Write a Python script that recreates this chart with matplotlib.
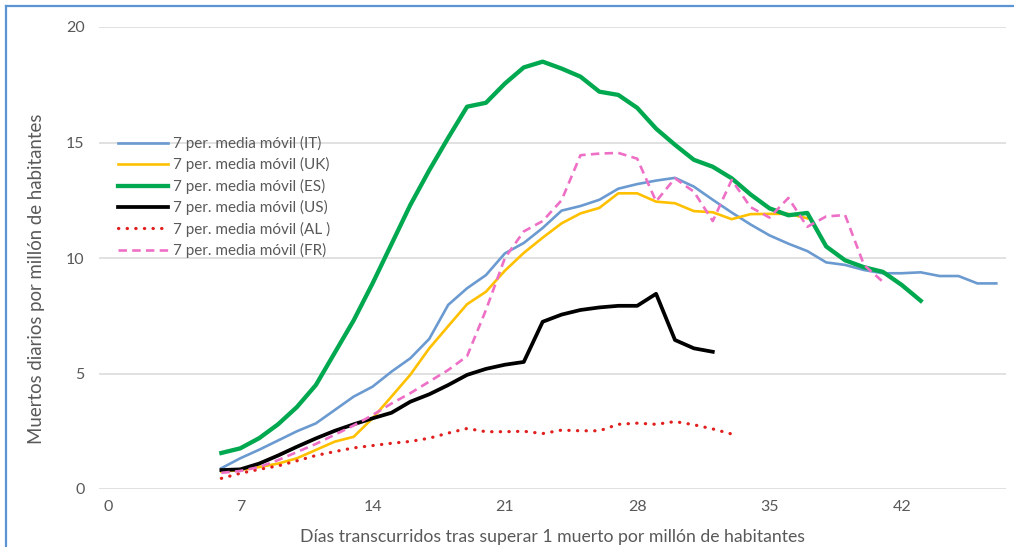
import matplotlib
matplotlib.use("Agg")
import matplotlib.pyplot as plt
from matplotlib.lines import Line2D

plt.rcParams['font.family'] = ['Lato', 'DejaVu Sans']

# ---- data (day index -> daily deaths per million, 7-day moving average) ----
days_it = list(range(6, 48))
it = [0.9, 1.33, 1.7, 2.1, 2.5, 2.84, 3.42, 4.0, 4.43, 5.08, 5.66, 6.5, 7.97, 8.69,
      9.26, 10.2, 10.65, 11.3, 12.05, 12.25, 12.52, 13.0, 13.2, 13.35, 13.47, 13.09,
      12.52, 11.97, 11.45, 10.98, 10.62, 10.3, 9.81, 9.7, 9.48, 9.34, 9.34, 9.38,
      9.22, 9.22, 8.9, 8.9]

days_uk = list(range(6, 38))
uk = [0.75, 0.82, 0.95, 1.1, 1.33, 1.69, 2.05, 2.26, 3.06, 4.0, 4.95, 6.09, 7.05,
      8.0, 8.54, 9.45, 10.22, 10.88, 11.5, 11.93, 12.17, 12.8, 12.8, 12.44, 12.37,
      12.03, 11.98, 11.68, 11.9, 11.91, 11.91, 11.72]

days_es = list(range(6, 44))
es = [1.56, 1.76, 2.2, 2.8, 3.55, 4.5, 5.9, 7.3, 8.9, 10.6, 12.3, 13.8, 15.2, 16.55,
      16.72, 17.55, 18.25, 18.5, 18.2, 17.85, 17.2, 17.06, 16.5, 15.6, 14.9, 14.25,
      13.95, 13.45, 12.75, 12.15, 11.85, 11.95, 10.5, 9.9, 9.6, 9.4, 8.83, 8.15]

days_us = list(range(6, 33))
us = [0.82, 0.85, 1.1, 1.45, 1.83, 2.19, 2.52, 2.8, 3.06, 3.3, 3.78, 4.1, 4.5, 4.94,
      5.2, 5.38, 5.5, 7.24, 7.55, 7.75, 7.86, 7.93, 7.93, 8.45, 6.45, 6.09, 5.94]

days_al = list(range(6, 34))
al = [0.46, 0.68, 0.85, 1.0, 1.22, 1.45, 1.62, 1.78, 1.88, 1.98, 2.06, 2.2, 2.42,
      2.62, 2.48, 2.48, 2.5, 2.4, 2.55, 2.52, 2.52, 2.8, 2.85, 2.8, 2.92, 2.78, 2.6, 2.38]

days_fr = list(range(6, 42))
fr = [0.7, 0.78, 0.95, 1.25, 1.6, 1.95, 2.35, 2.75, 3.2, 3.7, 4.15, 4.65, 5.15, 5.75,
      7.75, 10.0, 11.15, 11.6, 12.5, 14.45, 14.52, 14.55, 14.3, 12.45, 13.45, 12.87,
      11.6, 13.38, 12.2, 11.75, 12.6, 11.35, 11.8, 11.86, 9.7, 8.97]

labels = ["7 per. media móvil (IT)", "7 per. media móvil (UK)", "7 per. media móvil (ES)",
          "7 per. media móvil (US)", "7 per. media móvil (AL )", "7 per. media móvil (FR)"]
xticks = [0, 7, 14, 21, 28, 35, 42]
yticks = [0, 5, 10, 15, 20]

W, H = 1014, 547
fig = plt.figure(figsize=(W / 100, H / 100), dpi=100)
x0, x1, y0, y1 = 98.5, 1005.75, 27, 489
ax = fig.add_axes([x0 / W, 1 - y1 / H, (x1 - x0) / W, (y1 - y0) / H])

grey = '#595959'
ax.plot(days_it, it, color='#6a9ad0', lw=1.9, label=labels[0], solid_joinstyle='round')
ax.plot(days_uk, uk, color='#ffc000', lw=1.9, label=labels[1], solid_joinstyle='round')
ax.plot(days_es, es, color='#00a84f', lw=3.1, label=labels[2], solid_joinstyle='round')
ax.plot(days_us, us, color='black', lw=2.7, label=labels[3], solid_joinstyle='round')
ax.plot(days_al, al, color='#e0201e', lw=2.3, linestyle=(0, (0.1, 2.6)),
        dash_capstyle='round', label=labels[4])
ax.plot(days_fr, fr, color='#ee6fc6', lw=1.9, linestyle=(0, (3.2, 2.0)), label=labels[5])

ax.set_xlim(-0.5, 47.5)
ax.set_ylim(0, 20)
ax.set_xticks(xticks)
ax.set_yticks(yticks)
ax.set_xticklabels([str(v) for v in xticks])
ax.set_yticklabels([str(v) for v in yticks])
for s in ax.spines.values():
    s.set_visible(False)
ax.yaxis.grid(True, color='#d9d9d9', lw=1.1)
ax.set_axisbelow(True)
ax.tick_params(axis='both', length=0, labelsize=11.5, labelcolor=grey)
ax.tick_params(axis='y', pad=10)
ax.tick_params(axis='x', pad=8)

leg = ax.legend(loc='upper left', bbox_to_anchor=(118 / W, 1 - 136 / H),
                bbox_transform=fig.transFigure, frameon=False, fontsize=11,
                handlelength=3.3, handletextpad=0.33, labelspacing=0.415,
                borderpad=0, borderaxespad=0)
for t in leg.get_texts():
    t.set_color(grey)

fig.text(553 / W, 1 - 537 / H, "Días transcurridos tras superar 1 muerto por millón de habitantes",
         ha='center', va='center', fontsize=12.7, color=grey)
fig.text(37 / W, 1 - 279 / H, "Muertos diarios por millón de habitantes",
         ha='center', va='center', rotation=90, fontsize=13.4, color=grey)

# chart-area border (top and left edges visible)
fig.add_artist(Line2D([6 / W, 1], [1 - 6 / H, 1 - 6 / H], transform=fig.transFigure,
                      color='#5b93d3', lw=1.6))
fig.add_artist(Line2D([6 / W, 6 / W], [0, 1 - 6 / H], transform=fig.transFigure,
                      color='#5b93d3', lw=1.6))

fig.savefig('out.png', dpi=100)
